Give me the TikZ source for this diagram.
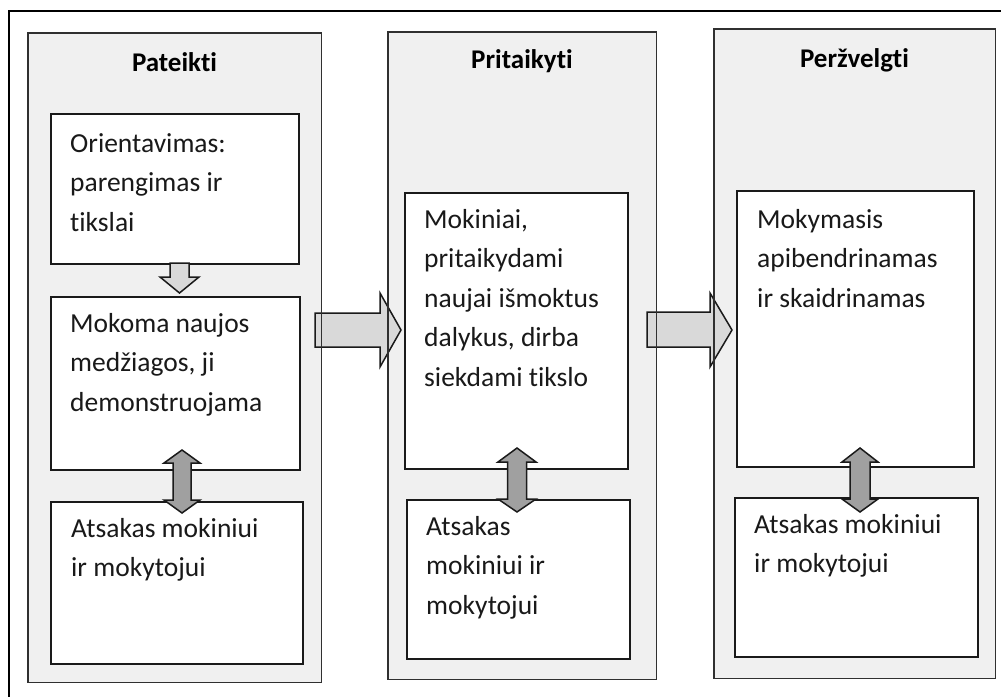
\documentclass[tikz,border=0pt]{standalone}
\usepackage{fontspec}
\setmainfont{Carlito}[Ligatures={NoCommon}]
\definecolor{colfill}{HTML}{F0F0F0}
\definecolor{colline}{HTML}{303030}
\definecolor{boxline}{HTML}{1A1A1A}
\definecolor{arrfill}{HTML}{D9D9D9}
\definecolor{darrfill}{HTML}{A0A0A0}
\tikzset{
  colbg/.style={fill=colfill, draw=none, anchor=north west, inner sep=0pt},
  colborder/.style={draw=colline, line width=1.6pt},
  wbox/.style={draw=boxline, fill=white, line width=2pt, anchor=north west, inner sep=0pt},
  txt/.style={anchor=north west, inner sep=0pt, align=left, text=black!90, font=\fontsize{27.5}{39.5}\selectfont},
  ttl/.style={anchor=base, inner sep=0pt, font=\fontsize{27}{32}\selectfont\bfseries},
  bigarrow/.style={draw=boxline, fill=arrfill, line width=1.5pt, line join=miter},
  dblarrow/.style={draw=boxline, fill=darrfill, line width=1.5pt, line join=miter}
}
\begin{document}
\begin{tikzpicture}[x=1pt,y=-1pt]
\useasboundingbox (0,0) rectangle (1001,696);
\fill[white] (0,0) rectangle (1001,696);
% outer frame
\draw[line width=2pt, black] (9,11) rectangle (1006,705);
% column backgrounds
\node[colbg, minimum width=293pt, minimum height=649pt] (c1) at (28,33) {};
\node[colbg, minimum width=268pt, minimum height=647pt] (c2) at (388,32) {};
\node[colbg, minimum width=281pt, minimum height=649pt] (c3) at (714,29) {};
% big arrows between columns
\draw[bigarrow] (315,313) -- (380,313) -- (380,293) -- (401,330) -- (380,367) -- (380,347) -- (315,347) -- cycle;
\draw[bigarrow] (647,312) -- (710,312) -- (710,293) -- (732,330) -- (710,367) -- (710,347) -- (647,347) -- cycle;
% column borders
\draw[colborder] (c1.north west) rectangle (c1.south east);
\draw[colborder] (c2.north west) rectangle (c2.south east);
\draw[colborder] (c3.north west) rectangle (c3.south east);
% titles
\node[ttl] (t1) at (174.5,71) {Pateikti};
\node[ttl] (t2) at (522,68) {Pritaikyti};
\node[ttl] (t3) at (854.5,67) {Peržvelgti};
% white boxes
\node[wbox, minimum width=248pt, minimum height=150pt] (b11) at (50,113) {};
\node[wbox, minimum width=249pt, minimum height=173pt] (b12) at (50,296) {};
\node[wbox, minimum width=252pt, minimum height=162pt] (b13) at (50,501) {};
\node[wbox, minimum width=223pt, minimum height=276pt] (b21) at (404,192) {};
\node[wbox, minimum width=223pt, minimum height=159pt] (b22) at (406,499) {};
\node[wbox, minimum width=237pt, minimum height=276pt] (b31) at (736,190) {};
\node[wbox, minimum width=243pt, minimum height=159pt] (b32) at (734,497) {};
% texts
\node[txt] (x11) at (70,124.35) {\strut Orientavimas:\\parengimas ir\\tikslai};
\node[txt] (x12) at (70,304.35) {\strut Mokoma naujos\\medžiagos, ji\\demonstruojama};
\node[txt] (x13) at (71,509.35) {\strut Atsakas mokiniui\\ir mokytojui};
\node[txt] (x21) at (424,200.35) {\strut Mokiniai,\\pritaikydami\\naujai išmoktus\\dalykus, dirba\\siekdami tikslo};
\node[txt] (x22) at (426,507.35) {\strut Atsakas\\mokiniui ir\\mokytojui};
\node[txt] (x31) at (757,200.35) {\strut Mokymasis\\apibendrinamas\\ir skaidrinamas};
\node[txt] (x32) at (754,505.35) {\strut Atsakas mokiniui\\ir mokytojui};
% small down arrow
\draw[bigarrow] (170,263) -- (189,263) -- (189,277) -- (199,277) -- (179.5,293) -- (160,277) -- (170,277) -- cycle;
% double arrows
\draw[dblarrow] (182,450) -- (200,463) -- (191,463) -- (191,500) -- (200,500) -- (182,513) -- (164,500) -- (173,500) -- (173,463) -- (164,463) -- cycle;
\draw[dblarrow] (517,448) -- (536,462) -- (526.5,462) -- (526.5,499) -- (536,499) -- (517,512) -- (498,499) -- (507.5,499) -- (507.5,462) -- (498,462) -- cycle;
\draw[dblarrow] (860,448) -- (878,462) -- (870,462) -- (870,499) -- (878,499) -- (860,512) -- (842,499) -- (850,499) -- (850,462) -- (842,462) -- cycle;
\end{tikzpicture}
\end{document}
